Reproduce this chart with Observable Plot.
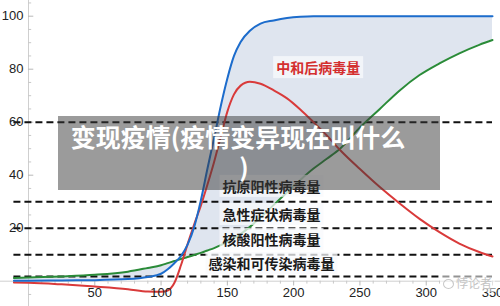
<!DOCTYPE html>
<html>
<head>
<meta charset="utf-8">
<script src="https://cdn.jsdelivr.net/npm/d3@7"></script>
<script src="https://cdn.jsdelivr.net/npm/@observablehq/plot@0.6"></script>
<style>
  html, body { margin: 0; padding: 0; background: #fff; }
  #wrap { position: relative; width: 500px; height: 306px; overflow: hidden; }
  #title {
    position: absolute; left: 58px; top: 116px; width: 360px; height: 67px;
    padding: 7px 22px 0 0; background: rgba(55,55,55,0.5);
    color: #fff; font-family: "Noto Sans CJK SC", sans-serif; font-weight: bold;
    font-size: 25px; line-height: 27px; text-align: center;
  }
  #title .p2 { position: relative; left: 6px; top: 3px; }
  #wm {
    position: absolute; left: 440px; top: 274px; height: 18px; padding: 0 3px;
    background: rgba(255,255,255,0.55); color: #c4c4c4;
    font-family: "Noto Sans CJK SC", sans-serif; font-size: 12px; line-height: 18px;
  }
  #wm .ic { display: inline-block; width: 9px; height: 8px; border: 1.2px solid #c8c8c8; border-radius: 50%; margin-right: 2px; vertical-align: -1px; }
</style>
</head>
<body>
<div id="wrap">
  <div id="chart"></div>
  <div id="title">变现疫情(疫情变异现在叫什么<br><span class="p2">)</span></div>
  <div id="wm"><span class="ic"></span>悖论者</div>
</div>
<script>
// shared x samples (days)
const xs    = [-11, 0, 25, 50, 75, 90, 100, 105, 110, 115, 120, 125, 130, 135, 140, 145, 150, 155, 160, 167, 175, 185, 195, 205, 215, 225, 235, 250, 265, 280, 295, 310, 325, 340, 350];
// blue curve
const blue  = [0.2, 0.2, 0.3, 0.4, 0.8, 1.6, 2.8, 4.5, 6.8, 9.5, 13.8, 20.5, 30.5, 42.5, 54, 66, 76.5, 85, 90.3, 94.5, 97.2, 98.4, 99.3, 99.8, 100, 100, 100, 100, 100, 100, 100, 100, 100, 100, 100];
// red curve
const red   = [-0.5, -0.6, -1.2, -2, -3, -3.9, -4, -3.5, -0.7, 6, 14, 21.5, 28.5, 36.5, 45, 54.5, 64, 70.5, 73.8, 75.3, 74.5, 72, 69, 64.8, 60, 55, 49.5, 42.3, 35.5, 29.3, 23.5, 18.5, 14.2, 11, 9.3];
// green curve
const green = [1.2, 1.4, 1.8, 2.4, 3.6, 5, 6, 6.8, 7.6, 8.4, 9.1, 9.9, 10.7, 11.6, 12.5, 13.6, 14.8, 16.2, 17.8, 20.5, 24, 28.8, 33.5, 38.2, 42.5, 46.2, 50, 58, 65, 72, 77.8, 82.2, 86, 89.2, 91];

// threshold levels (dashed)
const levels = [60, 30, 20, 10, 1.8];

// tick labels
const xTicks = [50, 100, 150, 200, 250, 300, 350];
const yTicks = [20, 40, 60, 80, 100];
const yMinor = [-5, 5, 10, 15, 25, 30, 35, 45, 50, 55, 65, 70, 75, 85, 90, 95, 105];
const xMinor = [10, 20, 30, 40, 60, 70, 80, 90, 110, 120, 130, 140, 160, 170, 180, 190, 210, 220, 230, 240, 260, 270, 280, 290, 310, 320, 330, 340];

// annotations
const labelText = ["中和后病毒量", "抗原阳性病毒量", "急性症状病毒量", "核酸阳性病毒量", "感染和可传染病毒量"];
const labelX    = [218.5, 183.3, 183.3, 183.3, 183.3];
const labelY    = [80.2, 35.4, 24.8, 15.4, 6.3];
const labelColor = ["#d42f2f", "#1a1a1a", "#1a1a1a", "#1a1a1a", "#1a1a1a"];

const data = xs.map((x, i) => ({x, blue: blue[i], red: red[i], green: green[i]}));
const labels = labelText.map((t, i) => ({text: t, x: labelX[i], y: labelY[i], color: labelColor[i]}));

const tickFont = "Liberation Sans, Arial, sans-serif";
const cjk = "Noto Sans CJK SC, sans-serif";

const chart = Plot.plot({
  width: 500,
  height: 306,
  margin: 0,
  style: {background: "transparent", overflow: "visible"},
  x: {domain: [-21.12, 356.03], axis: null},
  y: {domain: [-9.55, 105.92], axis: null},
  marks: [
    Plot.areaY(data, {x: "x", y1: "green", y2: "blue", fill: "#dfe5ef", curve: "monotone-x"}),
    Plot.ruleX([0], {stroke: "#cfcfcf", strokeWidth: 1}),
    Plot.ruleY([0], {stroke: "#cfcfcf", strokeWidth: 1}),
    Plot.ruleY(yMinor, {y: d => d, x1: 0, x2: 2.4, stroke: "#c8c8c8"}),
    Plot.ruleY(yTicks, {y: d => d, x1: 0, x2: 4, stroke: "#b8b8b8"}),
    Plot.ruleX(xMinor, {x: d => d, y1: 0, y2: -1.1, stroke: "#c8c8c8"}),
    Plot.ruleX(xTicks, {x: d => d, y1: 0, y2: -1.8, stroke: "#b8b8b8"}),
    Plot.ruleY(levels, {y: d => d, x1: d3.min(xs), x2: d3.max(xs), stroke: "#111", strokeWidth: 2, strokeDasharray: "7,4"}),
    Plot.line(data, {x: "x", y: "green", stroke: "#2a8b38", strokeWidth: 2, curve: "monotone-x"}),
    Plot.line(data, {x: "x", y: "red", stroke: "#d93a3a", strokeWidth: 2, curve: "monotone-x"}),
    Plot.line(data, {x: "x", y: "blue", stroke: "#1c6ccc", strokeWidth: 2, curve: "monotone-x"}),
    Plot.text(yTicks, {x: 0, y: d => d, text: d => String(d), textAnchor: "end", dx: -5, fontSize: 13, fontFamily: tickFont, fill: "#222"}),
    Plot.text(xTicks, {x: d => d, y: 0, text: d => String(d), dy: 12, fontSize: 13, fontFamily: tickFont, fill: "#222"}),
    Plot.text(labels, {x: "x", y: "y", text: "text", fill: "color", fontSize: 14, fontWeight: "bold", fontFamily: cjk, className: "lbl"})
  ]
});
document.getElementById("chart").appendChild(chart);

// backgrounds behind annotation labels
document.querySelectorAll(".lbl text").forEach(t => {
  const b = t.getBBox();
  const r = document.createElementNS("http://www.w3.org/2000/svg", "rect");
  r.setAttribute("x", b.x - 3);
  r.setAttribute("y", b.y - 1);
  r.setAttribute("width", b.width + 6);
  r.setAttribute("height", b.height + 2);
  r.setAttribute("fill", "rgba(248,249,252,0.75)");
  const g = t.parentNode;
  const tr = t.getAttribute("transform");
  if (tr) r.setAttribute("transform", tr);
  g.insertBefore(r, t);
});
</script>
</body>
</html>
